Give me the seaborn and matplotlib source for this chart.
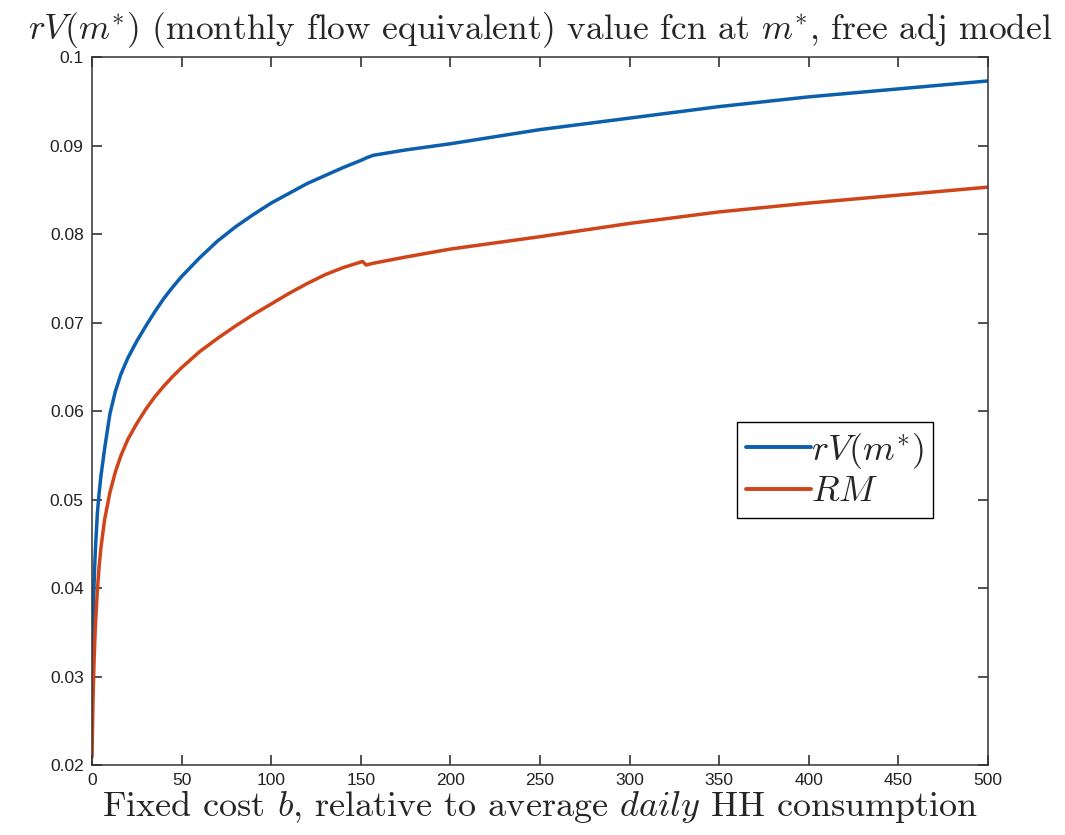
import matplotlib
matplotlib.use('Agg')

import matplotlib.pyplot as plt
import numpy as np
import pandas as pd
import seaborn as sns
from matplotlib.ticker import FuncFormatter

# values
b_cost = [0, 0.5, 1, 1.5, 2, 3, 4, 5, 7, 10, 13, 16, 20, 25, 30, 35, 40, 45, 50,
          60, 70, 80, 90, 100, 110, 120, 130, 140, 151, 153, 157, 175, 200,
          250, 300, 350, 400, 450, 500]
rv_mstar = [0.0304, 0.0360, 0.0395, 0.0425, 0.0448, 0.0485, 0.0508, 0.0527, 0.0557,
            0.0597, 0.0622, 0.0641, 0.0660, 0.0679, 0.0696, 0.0712, 0.0727, 0.0740,
            0.0752, 0.0773, 0.0792, 0.0808, 0.0822, 0.0835, 0.0846, 0.0857, 0.0866,
            0.0875, 0.0884, 0.0886, 0.0889, 0.0895, 0.0902, 0.0918, 0.0931, 0.0944,
            0.0955, 0.0964, 0.0973]
rm = [0.0209, 0.0268, 0.0308, 0.0338, 0.0362, 0.0398, 0.0425, 0.0446, 0.0477,
      0.0508, 0.0531, 0.0549, 0.0568, 0.0586, 0.0602, 0.0616, 0.0628, 0.0639,
      0.0649, 0.0667, 0.0682, 0.0696, 0.0709, 0.0721, 0.0733, 0.0744, 0.0754,
      0.0762, 0.0769, 0.0765, 0.0767, 0.0774, 0.0783, 0.0797, 0.0812, 0.0825,
      0.0835, 0.0844, 0.0853]
series_names = [r'$rV(m^{*})$', r'$RM$']
series_colors = ['#0B5FAD', '#D0441A']

x_ticks = list(range(0, 501, 50))
y_ticks = [0.02, 0.03, 0.04, 0.05, 0.06, 0.07, 0.08, 0.09, 0.1]

df = pd.DataFrame({
    'b': b_cost * 2,
    'value': rv_mstar + rm,
    'series': [series_names[0]] * len(b_cost) + [series_names[1]] * len(b_cost),
})

sns.set_style('ticks')
plt.rcParams['font.family'] = ['Liberation Sans', 'DejaVu Sans']
plt.rcParams['mathtext.fontset'] = 'cm'

fig = plt.figure(figsize=(10.65, 8.35), dpi=100)
ax = fig.add_axes([0.0864, 0.0838, 0.8413, 0.8479])

sns.lineplot(data=df, x='b', y='value', hue='series', palette=series_colors,
             linewidth=2.5, ax=ax, legend=False, sort=False, estimator=None)

ax.set_xlim(0, 500)
ax.set_ylim(0.02, 0.1)
ax.set_xticks(x_ticks)
ax.set_yticks(y_ticks)
ax.yaxis.set_major_formatter(FuncFormatter(lambda v, p: f'{v:g}'))
ax.tick_params(direction='in', length=7, width=1.1, top=True, right=True,
               labelsize=12.5, colors='#222222', pad=6)
for s in ax.spines.values():
    s.set_visible(True)
    s.set_linewidth(1.1)
    s.set_color('#333333')

ax.set_title(r'$rV(m^{*})$ (monthly flow equivalent) value fcn at $m^{*}$, free adj model',
             family='cmr10', fontsize=25.5, pad=13)
ax.set_xlabel(r'Fixed cost $b$, relative to average $\mathit{daily}$ HH consumption',
              family='cmr10', fontsize=26, labelpad=0)
ax.set_ylabel('')

handles = [plt.Line2D([], [], color=c, lw=2.8) for c in series_colors]
leg = ax.legend(handles, series_names, loc='upper left', bbox_to_anchor=(0.72, 0.485),
                fontsize=26, handlelength=1.8, handletextpad=0.0, borderpad=0.25,
                borderaxespad=0.0, labelspacing=0.1, fancybox=False, framealpha=1,
                edgecolor='black')
leg.get_frame().set_linewidth(1.0)

fig.savefig('out.png', dpi=100)
